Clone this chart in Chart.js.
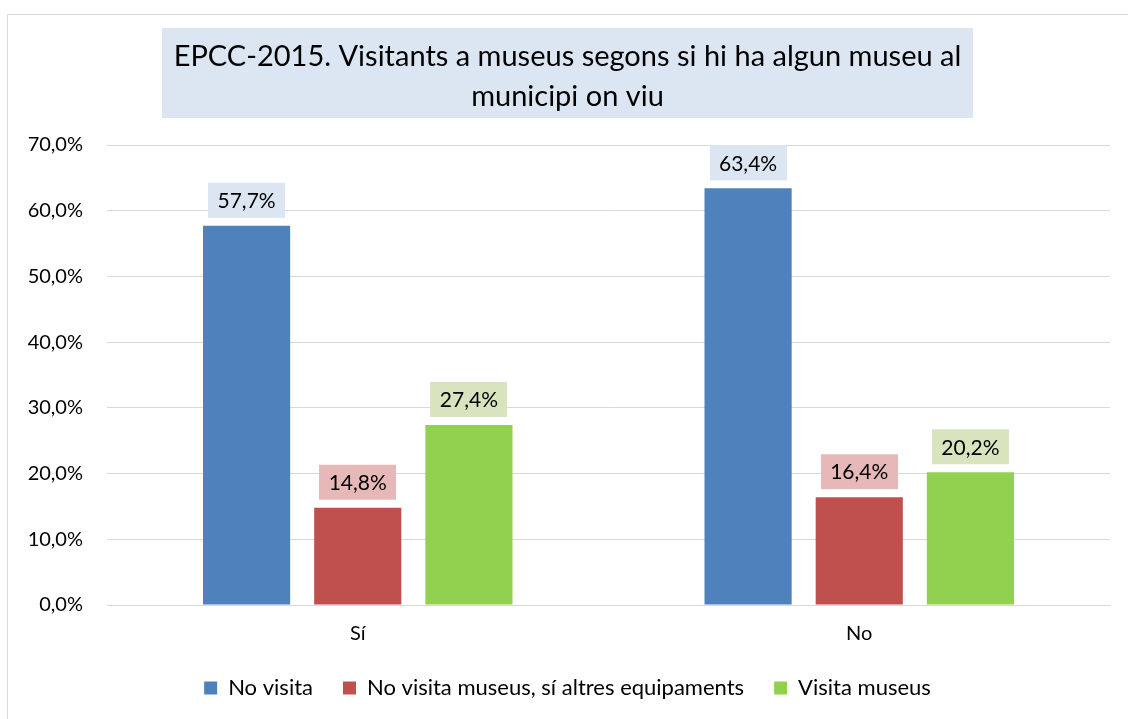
<!DOCTYPE html>
<html>
<head>
<meta charset="utf-8">
<script src="https://cdn.jsdelivr.net/npm/chart.js@4"></script>
<style>
  html, body { margin: 0; padding: 0; background: #fff; overflow: hidden; }
  #wrap { position: absolute; left: 7px; top: 14px; width: 1130px; height: 720px;
          border: 1px solid #d9d9d9; box-sizing: border-box; }
</style>
</head>
<body>
<div id="wrap"><canvas id="museusChart" width="1128" height="718"></canvas></div>
<script>
// Dades
var categories = ['Sí', 'No'];
var noVisita = [57.7, 63.4];
var noVisitaAltres = [14.8, 16.4];
var visitaMuseus = [27.4, 20.2];
var seriesNames = ['No visita', 'No visita museus, sí altres equipaments', 'Visita museus'];
var yTicks = [0, 10, 20, 30, 40, 50, 60, 70];

var fontFamily = 'Lato, "Noto Sans", sans-serif';

function pct(v) { return v.toFixed(1).replace('.', ',') + '%'; }

// Fons del títol
var titleBox = {
    id: 'titleBox',
    beforeDraw: function (chart) {
        var t = chart.titleBlock;
        if (!t) return;
        var ctx = chart.ctx;
        var w = 811;
        var cx = (t.left + t.right) / 2;
        ctx.save();
        ctx.fillStyle = '#dce6f2';
        ctx.fillRect(cx - w / 2, t.top, w, 90);
        ctx.restore();
    }
};

// Etiquetes de dades amb fons
var dataLabels = {
    id: 'dataLabels',
    afterDatasetsDraw: function (chart) {
        var ctx = chart.ctx;
        ctx.save();
        ctx.font = '21px ' + fontFamily;
        ctx.textAlign = 'center';
        ctx.textBaseline = 'middle';
        chart.data.datasets.forEach(function (ds, i) {
            var meta = chart.getDatasetMeta(i);
            meta.data.forEach(function (bar, j) {
                var txt = pct(ds.data[j]);
                var tw = ctx.measureText(txt).width + 19;
                var h = 35;
                var bottom = bar.y - 8;
                ctx.fillStyle = ds.labelBg;
                ctx.fillRect(Math.round(bar.x - tw / 2), bottom - h, Math.round(tw), h);
                ctx.fillStyle = '#000';
                ctx.fillText(txt, bar.x, bottom - h / 2 + 1);
            });
        });
        ctx.restore();
    }
};

var ctx = document.getElementById('museusChart').getContext('2d');
var museusChart = new Chart(ctx, {
    type: 'bar',
    data: {
        labels: categories,
        datasets: [{
            label: seriesNames[0],
            data: noVisita,
            backgroundColor: '#4f81bd',
            labelBg: '#dce6f2'
        }, {
            label: seriesNames[1],
            data: noVisitaAltres,
            backgroundColor: '#c0504d',
            labelBg: '#e6b9b8'
        }, {
            label: seriesNames[2],
            data: visitaMuseus,
            backgroundColor: '#92d050',
            labelBg: '#d7e4bd'
        }]
    },
    plugins: [titleBox, dataLabels],
    options: {
        responsive: false,
        animation: false,
        categoryPercentage: 0.665,
        barPercentage: 0.784,
        layout: { padding: { left: 17, right: 26, top: 13, bottom: 24 } },
        plugins: {
            title: {
                display: true,
                text: ['EPCC-2015. Visitants a museus segons si hi ha algun museu al', 'municipi on viu'],
                color: '#000',
                font: { family: fontFamily, size: 29, weight: 'normal', lineHeight: 40 / 29 },
                padding: { top: 9, bottom: 28 }
            },
            legend: {
                position: 'bottom',
                labels: {
                    color: '#000',
                    boxWidth: 13,
                    boxHeight: 13,
                    padding: 30,
                    font: { family: fontFamily, size: 22 }
                }
            },
            tooltip: { enabled: false }
        },
        scales: {
            x: {
                afterFit: function (s) { s.height = 42; },
                grid: { display: false, drawTicks: false, tickLength: 0 },
                border: { color: '#d9d9d9' },
                ticks: { color: '#000', font: { family: fontFamily, size: 20 }, padding: 17 }
            },
            y: {
                min: 0,
                max: 70,
                afterFit: function (s) { s.width = 82; },
                afterBuildTicks: function (s) { s.ticks = yTicks.map(function (v) { return { value: v }; }); },
                grid: { color: '#d9d9d9', drawTicks: false },
                border: { display: false },
                ticks: {
                    color: '#000',
                    padding: 24,
                    font: { family: fontFamily, size: 20 },
                    callback: function (v) { return pct(v); }
                }
            }
        }
    }
});
</script>
</body>
</html>
